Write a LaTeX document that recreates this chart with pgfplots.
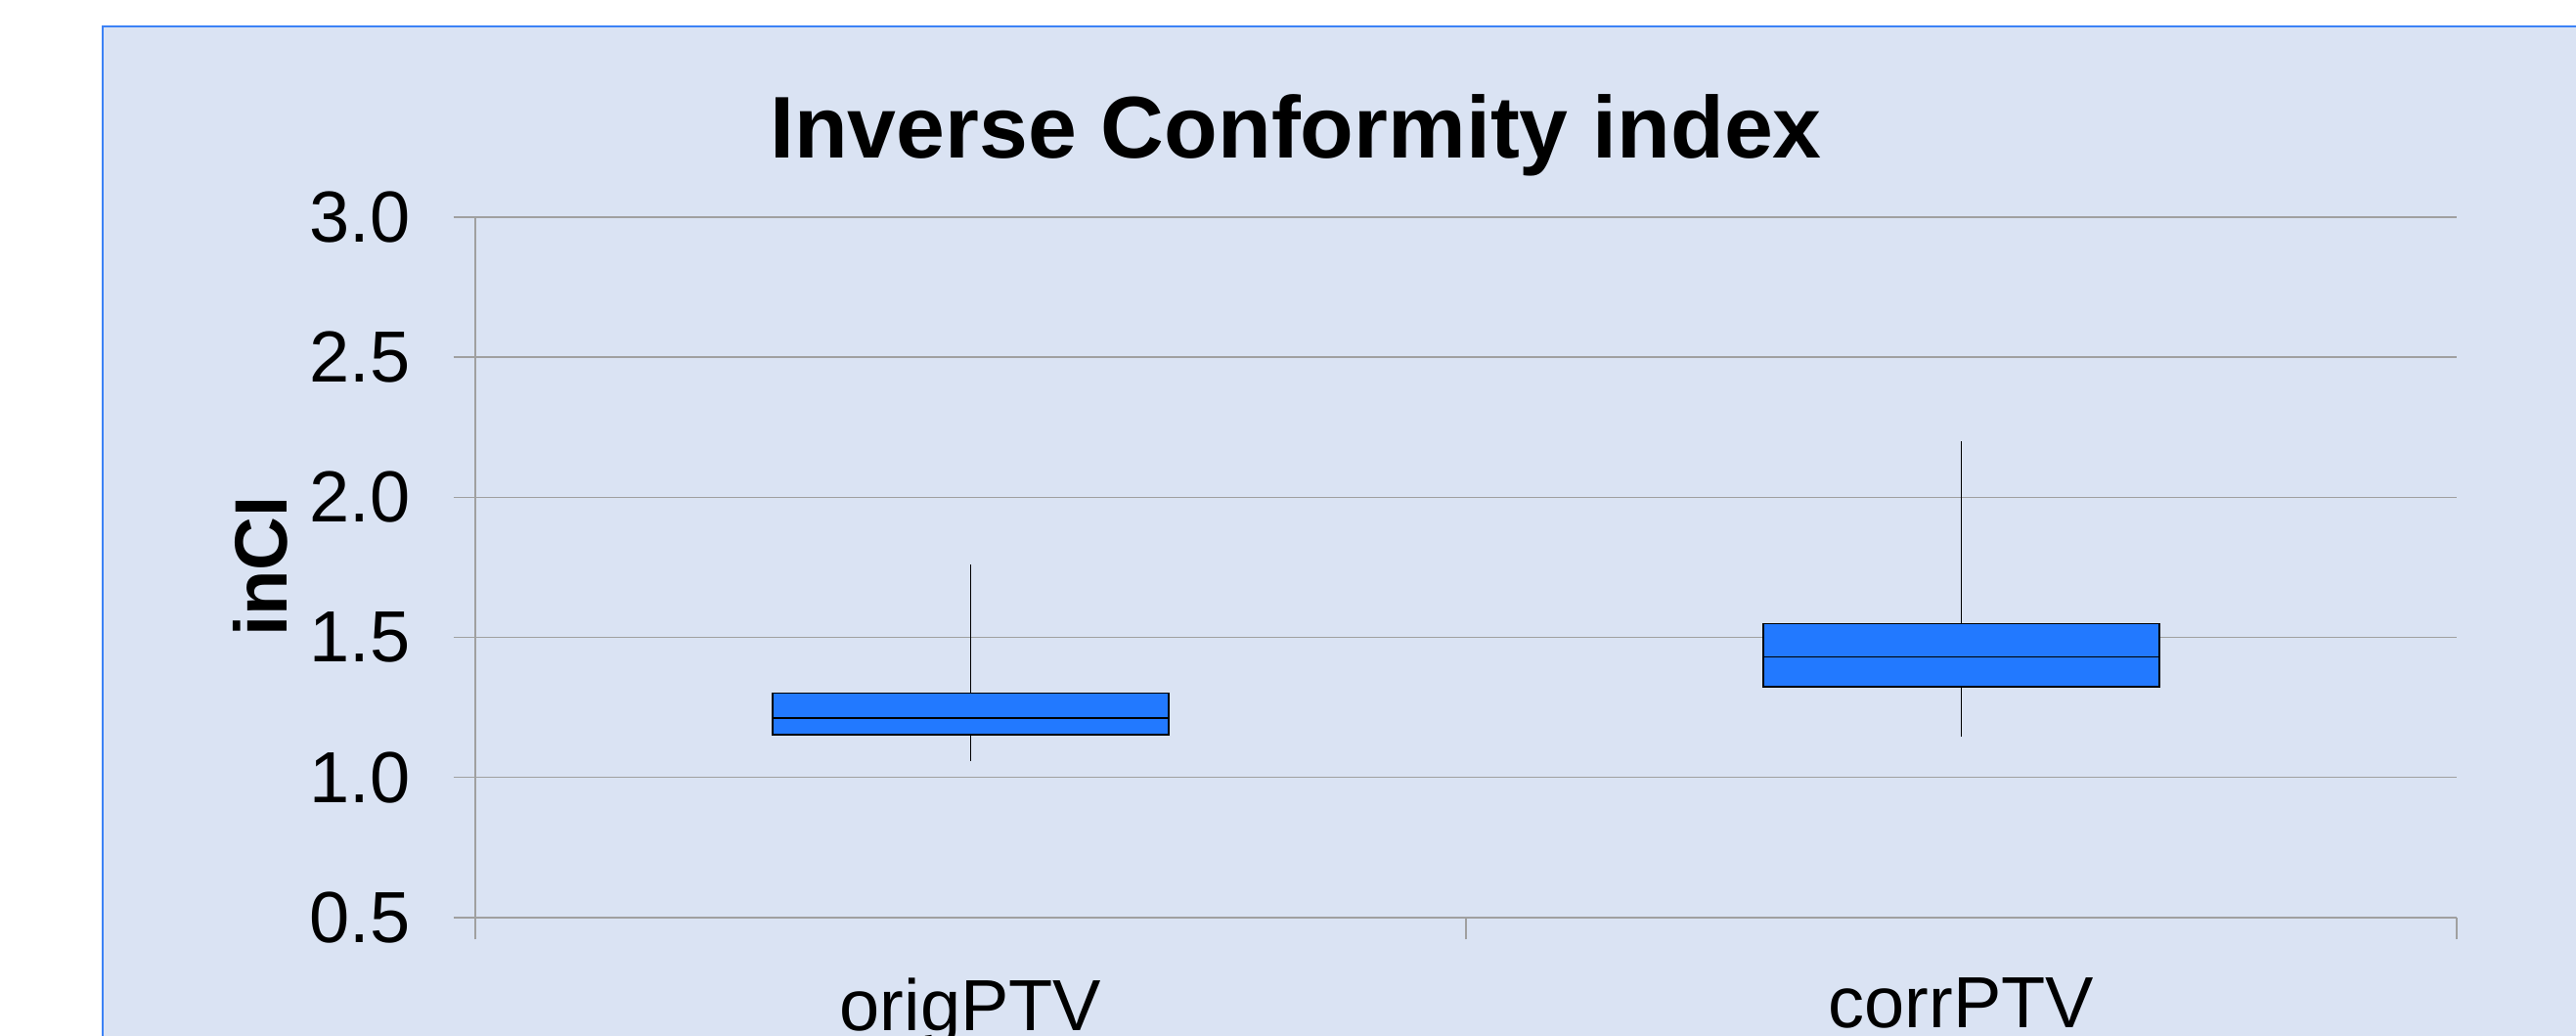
\documentclass[border=0pt]{standalone}
\usepackage{pgfplots}
\pgfplotsset{compat=1.18}
\usepgfplotslibrary{statistics}
\usepackage{fontspec}
\setmainfont{Liberation Sans}
\definecolor{panelblue}{RGB}{218,227,243}
\definecolor{borderblue}{RGB}{60,130,246}
\definecolor{boxblue}{RGB}{34,121,255}
\definecolor{gridgray}{RGB}{160,160,160}
\begin{document}
\begin{tikzpicture}
\path[use as bounding box, clip] (0pt,0pt) rectangle (658.5pt,264.75pt);
\fill[panelblue] (26.25pt,258pt) rectangle (700pt,-30pt);
\draw[borderblue, line width=0.45pt] (26.25pt,-30pt) -- (26.25pt,258pt) -- (700pt,258pt);
\begin{axis}[
  at={(121.5pt,30.25pt)}, anchor=south west,
  scale only axis, width=506.5pt, height=179pt,
  xmin=0, xmax=2, ymin=0.5, ymax=3.0,
  axis lines*=left,
  axis line style={gridgray, line width=0.35pt},
  ymajorgrids, grid style={gridgray, line width=0.35pt},
  ytick={0.5,1.0,1.5,2.0,2.5,3.0},
  /pgf/number format/fixed, /pgf/number format/fixed zerofill, /pgf/number format/precision=1,
  /pgf/number format/assume math mode=true,
  yticklabel style={font=\fontsize{18.5}{22}\selectfont, anchor=east, inner sep=0pt, xshift=-10.85pt},
  xtick={0,1,2}, xticklabels={},
  extra x ticks={0.5,1.5},
  extra x tick labels={origPTV,corrPTV},
  extra x tick style={major tick length=0pt, grid=none,
     xticklabel style={font=\fontsize{18.5}{22}\selectfont, anchor=north, inner sep=0pt, yshift=-15.25pt}},
  tick align=outside, major tick length=5.6pt,
  tick style={gridgray, line width=0.35pt},
  boxplot/draw direction=y,
  clip=false,
]
\addplot[boxplot prepared={median=1.213, upper quartile=1.301, lower quartile=1.153,
   upper whisker=1.759, lower whisker=1.059, draw position=0.5, box extend=0.4, whisker extend=0},
   fill=boxblue, draw=black, line width=0.4pt] coordinates {};
\addplot[boxplot prepared={median=1.431, upper quartile=1.549, lower quartile=1.323,
   upper whisker=2.199, lower whisker=1.145, draw position=1.5, box extend=0.4, whisker extend=0},
   fill=boxblue, draw=black, line width=0.4pt] coordinates {};
\end{axis}
\node[anchor=base, inner sep=0pt, font=\fontsize{22.4}{26}\selectfont\bfseries] at (331.25pt,224.25pt) {Inverse Conformity index};
\node[anchor=base, rotate=90, inner sep=0pt, font=\fontsize{19}{22}\selectfont\bfseries] at (73.25pt,120pt) {inCI};
\end{tikzpicture}
\end{document}
